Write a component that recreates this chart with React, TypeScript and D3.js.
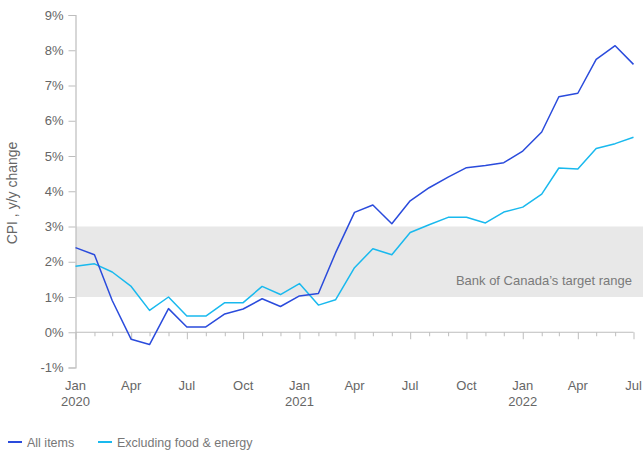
import React, { useEffect, useRef } from "react";
import * as d3 from "d3";

// monthly, Jan 2020 .. Jul 2022
const months = d3.timeMonths(new Date(2020, 0, 1), new Date(2022, 7, 1));
const allItems = [
  2.4, 2.2, 0.9, -0.2, -0.35, 0.67, 0.15, 0.15, 0.52, 0.66, 0.95, 0.73,
  1.03, 1.1, 2.25, 3.4, 3.61, 3.08, 3.73, 4.1, 4.4, 4.67, 4.73, 4.81,
  5.14, 5.68, 6.68, 6.78, 7.74, 8.13, 7.6,
];
const coreItems = [
  1.87, 1.94, 1.71, 1.3, 0.62, 1.0, 0.46, 0.46, 0.84, 0.84, 1.3, 1.07,
  1.38, 0.77, 0.92, 1.83, 2.37, 2.2, 2.83, 3.05, 3.26, 3.26, 3.1, 3.41,
  3.55, 3.92, 4.66, 4.63, 5.21, 5.35, 5.53,
];
const yTicks = [-1, 0, 1, 2, 3, 4, 5, 6, 7, 8, 9];
const targetRange = [1, 3];
const series = [
  { name: "All items", values: allItems, color: "#2a4bdc" },
  { name: "Excluding food & energy", values: coreItems, color: "#19b9ee" },
];

const W = 643;
const H = 453;
const FONT = "'Liberation Sans', Arial, sans-serif";
const FS = 13;

export default function App() {
  const svgRef = useRef<SVGSVGElement>(null);

  useEffect(() => {
    const svg = d3.select(svgRef.current);
    svg.selectAll("*").remove();

    const x = d3
      .scaleTime()
      .domain([months[0], months[months.length - 1]])
      .range([75.5, 633.5]);
    const y = d3.scaleLinear().domain([-1, 9]).range([367.5, 15]);

    // target band
    svg
      .append("rect")
      .attr("x", 76)
      .attr("y", y(targetRange[1]))
      .attr("width", W - 76)
      .attr("height", y(targetRange[0]) - y(targetRange[1]))
      .attr("fill", "#e8e8e8");

    svg
      .append("text")
      .attr("x", 632)
      .attr("y", y(1.35))
      .attr("text-anchor", "end")
      .attr("font-family", FONT)
      .attr("font-size", FS)
      .attr("fill", "#7a7a7a")
      .text("Bank of Canada\u2019s target range");

    // y axis
    const yAxis = svg
      .append("g")
      .attr("transform", "translate(75.5,0)")
      .call(
        d3
          .axisLeft(y)
          .tickValues(yTicks)
          .tickSize(7)
          .tickPadding(5)
          .tickFormat((d) => `${d}%`)
      );
    yAxis.select(".domain").attr("stroke", "#bdbdbd").attr("stroke-width", 1.2);
    yAxis.selectAll(".tick line").attr("stroke", "#bdbdbd");
    yAxis
      .selectAll("text")
      .attr("font-family", FONT)
      .attr("font-size", FS)
      .attr("fill", "#666");

    // x axis on zero line
    const xAxis = svg
      .append("g")
      .attr("transform", `translate(0,${y(0)})`)
      .call(
        d3
          .axisBottom(x)
          .tickValues(months)
          .tickSize(4)
          .tickFormat(() => "")
      );
    xAxis.select(".domain").attr("stroke", "#bdbdbd").attr("d", `M75.5,0H633.5`);
    xAxis
      .selectAll(".tick line")
      .attr("stroke", "#bdbdbd")
      .attr("y2", (d: any) => (d.getMonth() % 3 === 0 ? 7 : 4));

    // quarter labels
    const quarters = months.filter((m) => m.getMonth() % 3 === 0);
    svg
      .append("g")
      .selectAll("text")
      .data(quarters)
      .enter()
      .append("text")
      .attr("x", (d) => x(d))
      .attr("y", 390)
      .attr("text-anchor", "middle")
      .attr("font-family", FONT)
      .attr("font-size", FS)
      .attr("fill", "#666")
      .text((d) => d3.timeFormat("%b")(d));
    svg
      .append("g")
      .selectAll("text")
      .data(quarters.filter((m) => m.getMonth() === 0))
      .enter()
      .append("text")
      .attr("x", (d) => x(d))
      .attr("y", 406)
      .attr("text-anchor", "middle")
      .attr("font-family", FONT)
      .attr("font-size", FS)
      .attr("fill", "#666")
      .text((d) => d3.timeFormat("%Y")(d));

    // axis title
    svg
      .append("text")
      .attr("transform", `translate(17,193) rotate(-90)`)
      .attr("text-anchor", "middle")
      .attr("font-family", FONT)
      .attr("font-size", 14)
      .attr("fill", "#666")
      .text("CPI , y/y change");

    // lines
    const line = d3
      .line<number>()
      .x((_, i) => x(months[i]))
      .y((d) => y(d));
    series
      .slice()
      .reverse()
      .forEach((s) => {
        svg
          .append("path")
          .datum(s.values)
          .attr("d", line)
          .attr("fill", "none")
          .attr("stroke", s.color)
          .attr("stroke-width", 1.5)
          .attr("stroke-linejoin", "round");
      });

    // legend
    const legendPos = [8, 98];
    series.forEach((s, i) => {
      const g = svg
        .append("g")
        .attr("transform", `translate(${legendPos[i]},442)`);
      g.append("line")
        .attr("x1", 0)
        .attr("x2", 14)
        .attr("stroke", s.color)
        .attr("stroke-width", 2);
      g.append("text")
        .attr("x", 19)
        .attr("y", 4.5)
        .attr("font-family", FONT)
        .attr("font-size", 12.5)
        .attr("fill", "#777")
        .text(s.name);
    });
  }, []);

  return (
    <svg
      ref={svgRef}
      width={W}
      height={H}
      style={{ position: "absolute", left: 0, top: 0, background: "#fff" }}
    />
  );
}
